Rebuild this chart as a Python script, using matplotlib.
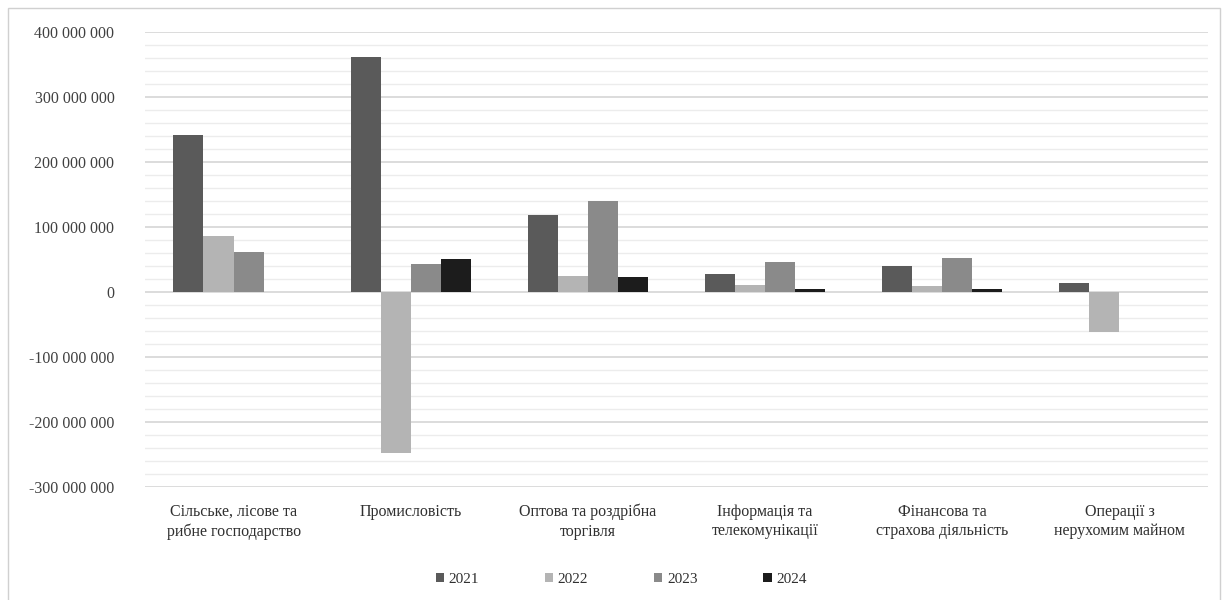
import numpy as np
import matplotlib.pyplot as plt
from matplotlib.ticker import MultipleLocator, FuncFormatter
from matplotlib.patches import Rectangle

plt.rcParams['font.family'] = ['Liberation Serif', 'DejaVu Serif']

# net results by sector and year, UAH
sectors = ['Сільське, лісове та\nрибне господарство', 'Промисловість',
           'Оптова та роздрібна\nторгівля', 'Інформація та\nтелекомунікації',
           'Фінансова та\nстрахова діяльність', 'Операції з\nнерухомим майном']
years = ['2021', '2022', '2023', '2024']
v2021 = [241e6, 361e6, 118e6, 27e6, 40e6, 14e6]
v2022 = [86e6, -248e6, 25e6, 11e6, 9e6, -61e6]
v2023 = [62e6, 43e6, 140e6, 46e6, 52e6, 0]
v2024 = [0, 50e6, 23e6, 5e6, 5e6, 0]
colors = ['#5a5a5a', '#b4b4b4', '#8a8a8a', '#1c1c1c']

fig = plt.figure(figsize=(12.3, 6), dpi=100)
# thin frame round the whole chart
fig.patches.append(Rectangle((8/1230, -0.01), 1212/1230, 0.997, transform=fig.transFigure,
                             fill=False, edgecolor='#d0d0d0', linewidth=1))
ax = fig.add_axes([145/1230, 1-487/600, 1063/1230, 455/600])

x = np.arange(len(sectors))
w = 0.17
for i, (vals, yr) in enumerate(zip([v2021, v2022, v2023, v2024], years)):
    ax.bar(x + (i - 1.5) * w, vals, w, color=colors[i], label=yr, zorder=3)

ax.set_xlim(-0.5, len(sectors) - 0.5)
ax.set_ylim(-300e6, 400e6)
ax.yaxis.set_major_locator(MultipleLocator(100e6))
ax.yaxis.set_minor_locator(MultipleLocator(20e6))
ax.grid(which='major', axis='y', color='#d6d6d6', linewidth=1.2, zorder=0)
ax.grid(which='minor', axis='y', color='#ececec', linewidth=1.0, zorder=0)
ax.yaxis.set_major_formatter(FuncFormatter(lambda v, p: f'{v:,.0f}'.replace(',', ' ')))
for s in ax.spines.values():
    s.set_visible(False)
ax.tick_params(axis='y', which='both', length=0, labelsize=11.5, labelcolor='#404040', pad=22)
ax.tick_params(axis='x', length=0, labelsize=11.5, labelcolor='#303030', pad=12)
ax.set_xticks(x)
ax.set_xticklabels(sectors, linespacing=1.3)

fig.legend(loc='lower center', bbox_to_anchor=(0.505, 0.0), ncol=4, frameon=False,
           fontsize=11, handlelength=0.55, handleheight=0.55, handletextpad=0.3,
           columnspacing=4.3, labelcolor='#303030')

fig.savefig('out.png', dpi=100)
